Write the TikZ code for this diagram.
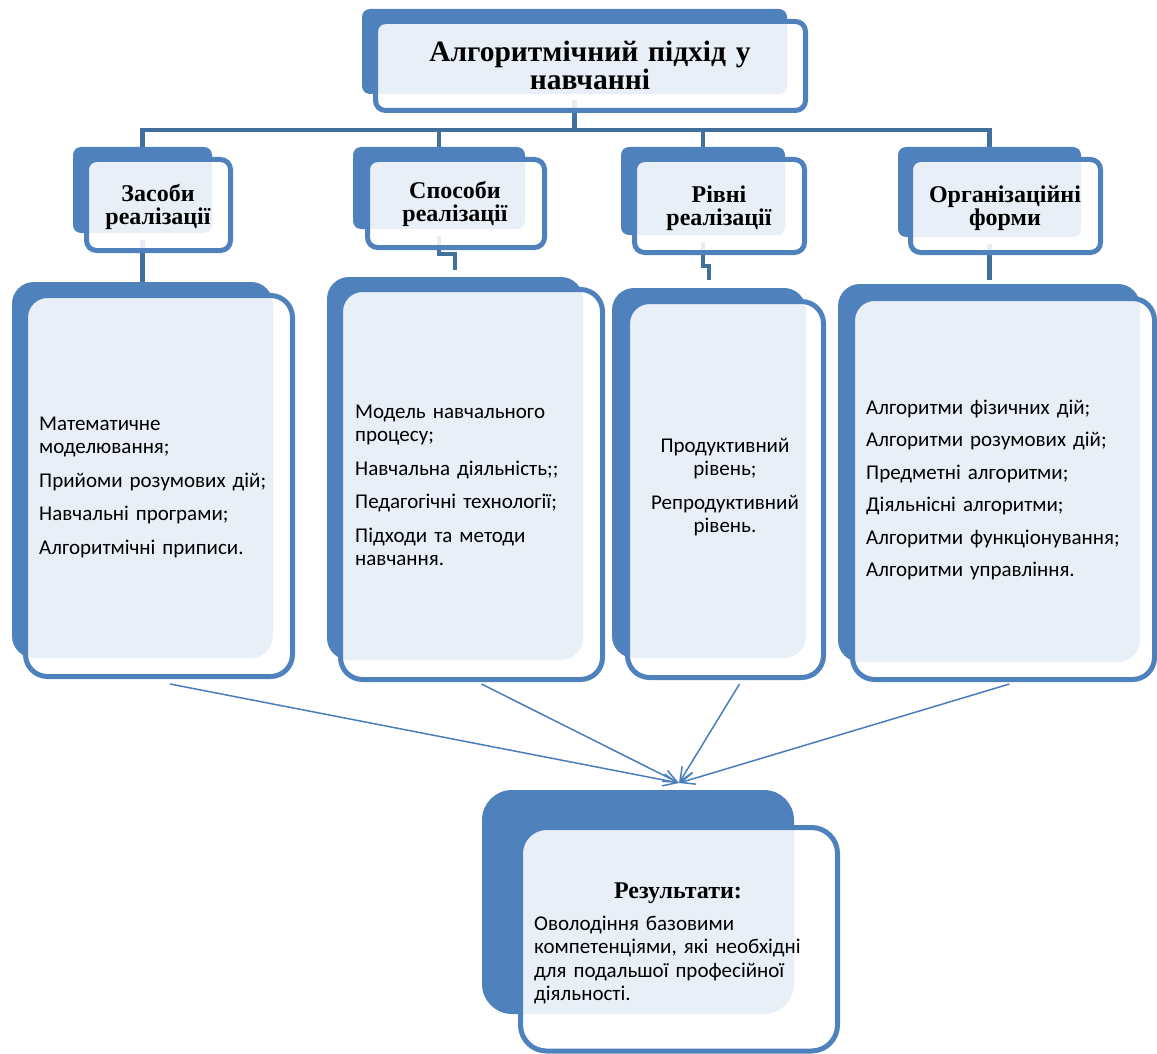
\documentclass[tikz,border=0pt]{standalone}
\usepackage{fontspec}
\setmainfont{Liberation Serif}
\newfontfamily\bodyfont{Carlito}
\usetikzlibrary{fit,calc,arrows.meta}

\definecolor{accent}{HTML}{4F81BD}
\definecolor{barblue}{HTML}{41719C}
\definecolor{arrowblue}{HTML}{4A7EBB}

\tikzset{
  backbox/.style={fill=accent, draw=none, inner sep=0pt, rounded corners=#1},
  backbox/.default=8pt,
  frontbox/.style={draw=accent, line width=5pt, fill=white, fill opacity=0.88,
                   inner sep=0pt, rounded corners=#1},
  frontbox/.default=10pt,
  conn/.style={draw=barblue, line width=4.5pt},
  toresult/.style={draw=arrowblue, line width=1.5pt,
                   -{Straight Barb[length=14pt,width=12pt]}},
  titletext/.style={font=\bfseries\fontsize{29.5}{28}\selectfont, align=center,
                    text width=#1, inner sep=0pt, anchor=base},
  headtext/.style={font=\bfseries\fontsize{24}{23.5}\selectfont, align=center,
                   text width=#1, inner sep=0pt, anchor=base},
  listtext/.style={font=\bodyfont\fontsize{21}{23.5}\selectfont, align=left,
                   text width=#1, inner sep=0pt, anchor=base west},
  centertext/.style={font=\bodyfont\fontsize{21}{23.5}\selectfont, align=center,
                     text width=#1, inner sep=0pt, anchor=base},
}

\begin{document}
\begin{tikzpicture}[x=1pt, y=-1pt]
\useasboundingbox (0,0) rectangle (1157,1054);

% ---------- back (solid) shapes ----------
\node[backbox, fit={(362,9) (787,94)}] (topB) {};
\node[backbox, fit={(73,147) (212,233)}] (B1B) {};
\node[backbox, fit={(353,147) (525,229)}] (B2B) {};
\node[backbox, fit={(621,147) (785,235)}] (B3B) {};
\node[backbox, fit={(898,147) (1081,237)}] (B4B) {};
\node[backbox=22pt, fit={(12,282) (273,658)}] (L1B) {};
\node[backbox=22pt, fit={(327,277) (583,660)}] (L2B) {};
\node[backbox=22pt, fit={(612,288) (806,658)}] (L3B) {};
\node[backbox=22pt, fit={(838,284) (1140,662)}] (L4B) {};
\node[backbox=30pt, fit={(482,790) (794,1014)}] (resB) {};

% ---------- hierarchy connectors ----------
\coordinate (bar) at (0,130);
\foreach \k in {B1B,B2B,B3B,B4B}
  \draw[conn] ([yshift=-6pt]topB.south) -- (topB.south |- bar) -| (\k.north);
\draw[conn] ([yshift=-7pt]B1B.south) -- (L1B.north);
\draw[conn] ([yshift=-7pt]B2B.south) -- ++(0,18) -| ([yshift=7pt]L2B.north);
\draw[conn] ([yshift=-7pt]B3B.south) -- ++(0,24) -| ([yshift=8pt]L3B.north);
\draw[conn] ([yshift=-7pt]B4B.south) -- ([yshift=4pt]B4B.south |- L4B.north);

% ---------- front (outlined) shapes ----------
\node[frontbox, fit={(375.5,21.5) (805.5,110.5)}] (topF) {};
\node[frontbox, fit={(86.5,159.5) (230.5,250.5)}] (B1F) {};
\node[frontbox, fit={(367.5,159.5) (544.5,247.5)}] (B2F) {};
\node[frontbox, fit={(634.5,159.5) (804.5,252.5)}] (B3F) {};
\node[frontbox, fit={(910.5,159.5) (1100.5,252.5)}] (B4F) {};
\node[frontbox=22pt, fit={(25.5,295.5) (292.5,676.5)}] (L1F) {};
\node[frontbox=22pt, fit={(340.5,289.5) (602.5,679.5)}] (L2F) {};
\node[frontbox=22pt, fit={(627.5,301.5) (823.5,677.5)}] (L3F) {};
\node[frontbox=22pt, fit={(852.5,298.5) (1154.5,679.5)}] (L4F) {};
\node[frontbox=26pt, fit={(520.5,827.5) (837.5,1051)}] (resF) {};

% ---------- texts ----------
\node[titletext=420pt] (titleT) at (590,62) {Алгоритмічний підхід у\\навчанні};
\node[headtext=170pt] (h1) at (158,201) {Засоби\\реалізації};
\node[headtext=170pt] (h2) at (455,198) {Способи\\реалізації};
\node[headtext=170pt] (h3) at (719,202) {Рівні\\реалізації};
\node[headtext=180pt] (h4) at (1005,202) {Організаційні\\форми};

\node[listtext=245pt] (t1) at (39,430)
  {Математичне\\моделювання;\\[10pt]Прийоми розумових дій;\\[10pt]Навчальні програми;\\[10pt]Алгоритмічні приписи.};
\node[listtext=245pt] (t2) at (355,418)
  {Модель навчального\\процесу;\\[10pt]Навчальна діяльність;;\\[10pt]Педагогічні технології;\\[10pt]Підходи та методи\\навчання.};
\node[centertext=190pt] (t3) at (725,452)
  {Продуктивний\\рівень;\\[10pt]Репродуктивний\\рівень.};
\node[listtext=285pt] (t4) at (866,414)
  {Алгоритми фізичних дій;\\[9pt]Алгоритми розумових дій;\\[9pt]Предметні алгоритми;\\[9pt]Діяльнісні алгоритми;\\[9pt]Алгоритми функціонування;\\[9pt]Алгоритми управління.};

\node[headtext=200pt] (resH) at (678,898) {Результати:};
\node[listtext=290pt] (resT) at (534,930)
  {Оволодіння базовими\\компетенціями, які необхідні\\для подальшої професійної\\діяльності.};

% ---------- arrows to the result ----------
\coordinate (meet) at (679,783);
\draw[toresult] ($(L1F.south)+(11,5)$) -- (meet);
\draw[toresult] ($(L2F.south)+(10,2)$) -- (meet);
\draw[toresult] ($(L3F.south)+(14,4)$) -- (meet);
\draw[toresult] ($(L4F.south)+(6,2)$) -- (meet);
\end{tikzpicture}
\end{document}
